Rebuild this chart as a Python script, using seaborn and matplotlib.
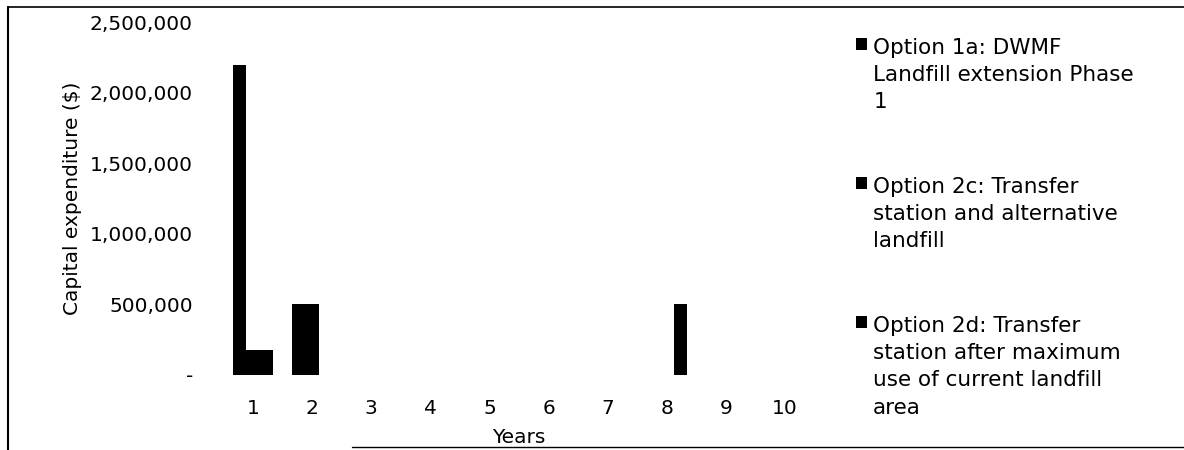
import matplotlib
matplotlib.use("Agg")
import matplotlib.pyplot as plt
import matplotlib.ticker as mticker
from matplotlib.lines import Line2D
import pandas as pd
import seaborn as sns

# ------------------------------
# data
# ------------------------------
years = ["1", "2", "3", "4", "5", "6", "7", "8", "9", "10"]
option_names = [
    "Option 1a: DWMF\nLandfill extension Phase\n1",
    "Option 2c: Transfer\nstation and alternative\nlandfill",
    "Option 2d: Transfer\nstation after maximum\nuse of current landfill\narea",
]
opt_1a = [2200000, 500000, 0, 0, 0, 0, 0, 0, 0, 0]
opt_2c = [180000, 500000, 0, 0, 0, 0, 0, 0, 0, 0]
opt_2d = [180000, 0, 0, 0, 0, 0, 0, 500000, 0, 0]

rows = []
for name, vals in zip(option_names, [opt_1a, opt_2c, opt_2d]):
    for y, v in zip(years, vals):
        rows.append({"year": y, "option": name, "capex": v})
df = pd.DataFrame(rows)

# ------------------------------
# plot
# ------------------------------
sns.set_style("white")
plt.rcParams["font.family"] = ["DejaVu Sans"]
FS = 14.5
FS_LEG = 15.5

fig = plt.figure(figsize=(11.84, 4.5), dpi=100)
ax = fig.add_axes([0.1888, 0.1667, 0.4992, 0.7833])

sns.barplot(data=df, x="year", y="capex", hue="option", order=years,
            hue_order=option_names, palette=["black"] * 3, width=0.68,
            gap=0, linewidth=0, saturation=1, ax=ax)

ax.set_ylim(0, 2500000)
ax.set_xlim(-0.5, 9.5)
ax.yaxis.set_major_locator(mticker.MultipleLocator(500000))
ax.yaxis.set_major_formatter(
    mticker.FuncFormatter(lambda v, p: "-" if v == 0 else f"{int(v):,}"))
ax.tick_params(axis="y", length=0, pad=22, labelsize=FS, colors="black")
ax.tick_params(axis="x", length=0, pad=17, labelsize=FS, colors="black")
for s in ax.spines.values():
    s.set_visible(False)

ax.set_ylabel("Capital expenditure ($)", fontsize=FS, color="black")
ax.yaxis.set_label_coords(-0.239, 0.5)
ax.set_xlabel("Years", fontsize=FS, color="black")
ax.xaxis.set_label_coords(0.5, -0.15)

leg = ax.legend(loc="upper left", bbox_to_anchor=(856 / 1184, 1 - 38 / 450),
                bbox_transform=fig.transFigure, frameon=False, fontsize=FS_LEG,
                handlelength=0.5, handleheight=0.5, handletextpad=0.3,
                labelspacing=3.0, borderpad=0, borderaxespad=0)
for t in leg.get_texts():
    t.set_linespacing(1.45)
    t.set_color("black")
# put the square next to the first line of each label
for col in leg._legend_handle_box.get_children():
    for item in col.get_children():
        item.align = "top"

# page frame lines from the scanned document
fig.add_artist(Line2D([8 / 1184, 8 / 1184], [0, 1 - 7 / 450],
                      transform=fig.transFigure, color="black", lw=1.5))
fig.add_artist(Line2D([8 / 1184, 1], [1 - 7 / 450, 1 - 7 / 450],
                      transform=fig.transFigure, color="black", lw=1.2))
fig.add_artist(Line2D([352 / 1184, 1], [1 - 447 / 450, 1 - 447 / 450],
                      transform=fig.transFigure, color="black", lw=1.0))

plt.savefig("out.png", dpi=100, facecolor="white")
plt.close()
